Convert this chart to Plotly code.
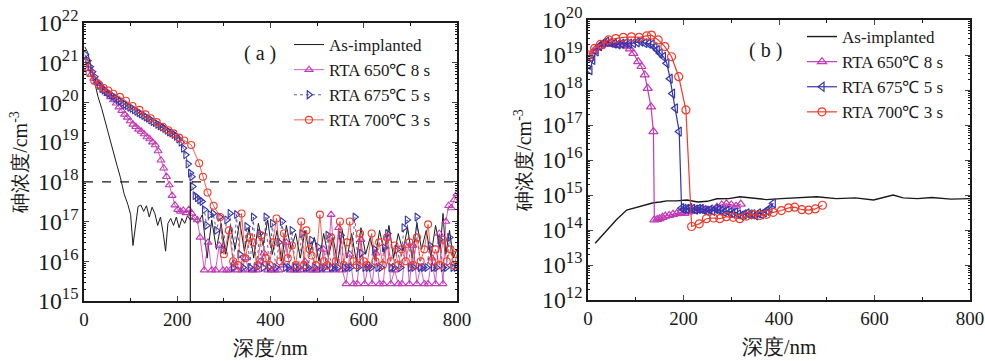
import plotly.graph_objects as go

# ---------------- Panel (a) data ----------------
as_a_depth = [2, 8, 15, 22, 30, 38, 46, 54, 62, 70, 78, 86, 94, 100, 105, 110, 116, 122, 128, 134, 140,
              146, 152, 158, 164, 170, 175, 180, 186, 192, 198, 204, 210, 216, 222, 228,
              234, 244, 254, 264, 274, 284, 294, 304, 314, 324, 334, 344, 354, 364, 374, 384, 394,
              404, 414, 424, 434, 444, 454, 464, 474, 484, 494, 504, 514, 524, 534, 544, 554, 564,
              574, 584, 594, 604, 614, 624, 634, 644, 654, 664, 674, 684, 694, 704, 714, 724, 734,
              744, 754, 764, 770, 776, 784, 792, 800]
as_a_conc = [2.5e21, 1.8e21, 8e20, 3.5e20, 1.4e20, 7e19, 3e19, 1.3e19, 6e18, 2.8e18, 1.3e18, 5e17, 2.7e17,
             1.5e17, 2.5e16, 8e16, 2.4e17, 2.6e17, 1.8e17, 2.5e17, 1.3e17,
             2.3e17, 1.6e17, 8e16, 1.3e17, 5e16, 1.8e16, 9e16, 1.2e17, 8e16, 1.3e17, 7e16, 1.2e17, 9e16, 1.4e17, 1.1e17,
             1.2e17, 9e16, 1.5e17, 1.2e16, 1.1e17, 2e16, 9e16, 1.5e16, 8e16, 2e16, 1e17, 1.8e16, 7e16, 1.2e16, 9e16, 2.5e16, 1.1e17,
             1.5e16, 6e16, 1e16, 8e16, 2e16, 5e16, 1.2e16, 6e16, 1.5e16, 4e16, 1e16, 5e16, 1.3e16, 4e16, 9e15, 6e16, 1.2e16,
             5e16, 1e16, 7e16, 1.5e16, 4e16, 1.1e16, 6e16, 1.6e16, 8e16, 1.2e16, 5e16, 1.8e16, 7e16, 1.2e16, 9e16, 2e16, 6e16,
             1.3e16, 8e16, 2e16, 1.6e17, 1.5e16, 6e16, 1.2e16, 2e16]

r650_a_depth = [3, 9, 15, 21, 27, 33, 39, 45, 51, 57, 63, 69, 75, 81, 87, 93, 99, 105, 111, 117, 123, 129, 135,
                141, 147, 153, 159, 165, 171, 177, 183, 189, 195, 201, 207, 213, 219, 225, 231, 237, 243, 249,
                258, 266, 274, 282, 290, 298, 306, 314, 322, 330, 338, 346, 354, 362, 370, 378, 386, 394, 402,
                410, 418, 426, 434, 442, 450, 458, 466, 474, 482, 490, 498, 506, 514, 522, 530, 538, 546, 554,
                562, 570, 578, 586, 594, 602, 610, 618, 626, 634, 642, 650, 658, 666, 674, 682, 690, 698, 706,
                714, 722, 730, 738, 746, 754, 762, 770, 776, 782, 788, 794, 800]
r650_a_conc = [1.12e21, 7.1e20, 5e20, 4e20, 3.3e20, 2.95e20, 2.4e20, 2e20, 1.66e20, 1.38e20, 1.15e20, 9.5e19, 7.6e19,
               6.2e19, 5e19, 4.2e19, 3.4e19, 2.8e19, 2.45e19, 2.1e19, 1.86e19, 1.6e19, 1.35e19,
               1.2e19, 1e19, 8.5e18, 6e18, 3.5e18, 2.2e18, 1.35e18, 8.3e17, 4.5e17, 2.6e17, 2e17, 1.8e17, 1.9e17,
               1.66e17, 2e17, 1.6e17, 1.26e17, 1.1e17, 4e16,
               6e15, 3e16, 6e15, 6e15, 2.5e16, 6e15, 6e15, 6e15, 9e15, 6e15, 6e15, 1.2e16, 6e15, 6e15, 6e15, 1e16, 1.6e16, 6e15, 6e15,
               6e15, 6e15, 8e15, 3e16, 6e15, 6e15, 6e15, 6e15, 1e16, 6e15, 6e15, 6e15, 6e15, 2e16, 6e15, 1.5e17, 6e15, 7e16, 6e15,
               2.7e15, 1.5e16, 2.7e15, 2.7e15, 3.5e16, 2.7e15, 8e15, 2.7e15, 1.6e16, 2.7e15, 2.7e15, 4e16, 2.7e15, 6e15, 2.7e15, 2.7e15, 2.5e16, 2.7e15, 2.5e16,
               2.7e15, 7e15, 2.7e15, 2.7e15, 1.2e16, 2.7e15, 5e16, 2.7e15, 1e17, 2.5e17, 2.2e17, 3.5e17, 5e17]

r675_a_depth = [3, 8, 13, 18, 23, 28, 33, 38, 43, 48, 53, 58, 63, 68, 73, 78, 83, 88, 93, 98, 103, 108, 113, 118,
                123, 128, 133, 138, 143, 148, 153, 158, 163, 168, 173, 178, 183, 188, 193, 198, 203, 208, 213,
                218, 223, 228, 231, 233, 238, 243, 248, 253, 258, 263,
                270, 277, 284, 291, 298, 306, 313, 320, 327, 334, 341, 349, 356, 363, 370, 377, 384, 390, 397,
                404, 411, 418, 425, 432, 439, 446, 453, 460, 467, 474, 481, 488, 495, 502, 509, 516, 523, 530,
                537, 544, 551, 558, 565, 572, 581, 588, 595, 602, 609, 616, 623, 630, 637, 644, 651, 658, 665,
                672, 679, 686, 693, 700, 707, 714, 721, 728, 735, 742, 749, 756, 763, 770, 777, 784, 791, 798]
r675_a_conc = [1.6e21, 1.12e21, 7.9e20, 5.9e20, 4.4e20, 3.3e20, 2.7e20, 2.24e20, 2.04e20, 1.86e20, 1.7e20, 1.55e20,
               1.41e20, 1.29e20, 1.17e20, 1.07e20, 9.8e19, 8.9e19, 8.3e19, 7.6e19, 7.1e19, 6.5e19, 6e19, 5.5e19,
               5.1e19, 4.7e19, 4.3e19, 4e19, 3.6e19, 3.3e19, 3.1e19, 2.8e19, 2.6e19, 2.4e19, 2.2e19, 2e19, 1.8e19,
               1.7e19, 1.55e19, 1.4e19, 1.2e19, 1e19, 7e18, 4.8e18, 2.8e18, 1.66e18, 1.35e18, 7.6e17, 4.5e17, 4e17,
               3.5e17, 3.2e17, 2e17, 8e16,
               1.5e17, 1.6e17, 6e16, 1.3e17, 2e16, 1.1e17, 1.6e17, 7e15, 1.5e17, 1.5e16, 7e15, 7.5e16, 7e15, 1.3e17,
               7e15, 5e16, 7e15, 1.3e17, 7e15, 9e16, 7e15, 3e16, 1e17, 7e15, 7e15, 6e16, 7e15, 7e15, 5e16, 7e15, 7e15,
               3.4e16, 7e15, 2.3e16, 7e15, 7e15, 4.5e16, 7e15, 7e15, 7e15, 4.5e16, 7e15, 7e15, 7e15, 1.3e17, 7e15,
               1.6e16, 7e15, 7e15, 7e15, 2e16, 7e15, 7e15, 2.2e16, 5e16, 7e15, 7e15, 2e16, 7e15, 7e16, 1.1e17, 7e15,
               7e15, 1.3e17, 7e15, 7e15, 7e15, 2.5e16, 7e15, 7e15, 3.5e16, 7e15, 7e15, 4e16, 7e15, 7e15]

r700_a_depth = [3, 12, 22, 32, 42, 52, 63, 77, 90, 104, 119, 132, 143, 156, 169, 181, 192, 204, 215, 230, 247,
                255, 265, 278, 292, 300, 311, 320, 330, 338, 346, 355, 363, 372, 380, 390, 398, 405, 413, 421,
                429, 437, 446, 454, 466, 472, 477, 484, 488, 497, 506, 514, 522, 530, 540, 549, 557, 564, 570,
                578, 585, 592, 600, 607, 617, 625, 633, 641, 650, 658, 666, 674, 681, 690, 698, 706, 714, 722,
                730, 738, 746, 754, 762, 770, 778, 786, 794, 800]
r700_a_conc = [1e21, 5.6e20, 3.5e20, 2.8e20, 2.3e20, 2e20, 1.66e20, 1.38e20, 1.1e20, 8.1e19, 6.5e19, 5e19, 4e19,
               3.2e19, 2.45e19, 2e19, 1.66e19, 1.3e19, 1.1e19, 8.5e18, 2.95e18, 1.35e18, 5.4e17, 2.5e17, 1.3e17,
               1.5e16, 6e16, 1e16, 8e15, 1.6e17, 1.2e16, 4e16, 3e16, 8e15, 4.5e16, 1.2e16, 8e15, 3e16, 1.2e17, 1e16,
               5e16, 1.2e16, 2.5e16, 8e15, 1e17, 8e15, 6e16, 2e16, 1.4e16, 8e15, 1.5e17, 1e16, 8e15, 4e16, 1e16,
               1e17, 8e15, 3e16, 1e17, 1e16, 8e15, 5e16, 1e16, 8e15, 5e16, 1e16, 3e16, 8e15, 4e16, 1e16, 2.5e16,
               8e15, 2e16, 1e16, 3e16, 8e15, 4e16, 1e16, 2e16, 8.5e16, 1e16, 2e16, 8e15, 3.5e16, 1e16, 2e16, 8e15, 1.5e16]

threshold_conc = 1e18
threshold_depth = [0, 800]
junction_depth = 228
junction_conc = [1e18, 1e15]

# ---------------- Panel (b) data ----------------
as_b_depth = [15, 30, 46, 60, 81, 95, 109, 123, 137, 151, 165, 185, 207, 230, 250, 270, 295, 318, 345, 374,
              404, 440, 479, 520, 560, 598, 620, 639, 660, 690, 720, 760, 800]
as_b_conc = [4.2e13, 7.1e13, 1.26e14, 2e14, 3.7e14, 4.2e14, 4.7e14, 5.2e14, 6e14, 6.3e14, 6.8e14, 6.8e14, 7.2e14,
             6.3e14, 6.6e14, 7.8e14, 7.9e14, 8.9e14, 8.3e14, 7.4e14, 7.9e14, 8.5e14, 8.9e14, 7.9e14, 8.3e14,
             7.2e14, 8.5e14, 1e15, 8.3e14, 7.9e14, 8.5e14, 7.6e14, 7.9e14]

r650_b_depth = [4, 11, 18, 25, 32, 39, 46, 53, 60, 67, 74, 81, 88, 95, 105, 112, 119, 125, 132, 137, 139,
                145, 150, 156, 162, 170, 178, 186, 194, 202, 210, 220, 230, 240, 250, 260, 270, 280, 290, 300,
                310, 320]
r650_b_conc = [7.9e18, 1.26e19, 1.6e19, 1.74e19, 2e19, 2.1e19, 2.1e19, 2e19, 1.9e19, 2e19, 1.9e19, 1.8e19, 1.5e19,
               1.12e19, 6.5e18, 4.7e18, 2.7e18, 1.12e18, 3.3e17, 6.5e16, 1.95e14,
               2e14, 2.1e14, 2.3e14, 2.5e14, 2.6e14, 2.8e14, 2.95e14, 3.2e14, 3e14, 3.3e14, 3.5e14, 3.6e14, 3.8e14,
               3.7e14, 4e14, 4.5e14, 5.2e14, 5.6e14, 5.2e14, 4.8e14, 5.5e14]

r675_b_depth = [4, 10, 17, 24, 32, 39, 47, 55, 63, 71, 79, 87, 95, 103, 111, 119, 127, 134, 140, 145, 151, 158,
                165, 172, 177, 183, 191, 196, 201, 207, 213, 219, 225, 231, 237, 243, 249, 255, 261, 267, 273,
                279, 285, 291, 297, 303, 309, 315, 321, 327, 333, 339, 345, 351, 357, 363, 369, 375, 381, 388]
r675_b_conc = [3.7e18, 7.2e18, 1.26e19, 1.8e19, 2.2e19, 2.4e19, 2.3e19, 2.1e19, 2e19, 2.1e19, 2.2e19, 2.1e19,
               2.2e19, 2.3e19, 2.4e19, 2.2e19, 2.1e19, 2e19, 1.66e19, 1.38e19, 1.12e19, 8.9e18, 5.8e18, 2.1e18,
               7.9e17, 3e17, 6.5e16, 4.2e14, 4e14, 4e14, 4.2e14, 4e14, 3.8e14, 4e14, 4e14, 3.7e14, 3.5e14, 3.7e14,
               3.5e14, 4e14, 3.8e14, 3.5e14, 3.3e14, 3.5e14, 3.2e14, 3e14, 3.2e14, 2.8e14, 2.6e14, 2.8e14, 3e14,
               2.8e14, 2.8e14, 2.6e14, 3e14, 2.8e14, 3.2e14, 3.5e14, 4.2e14, 5.8e14]

r700_b_depth = [2, 14, 26, 43, 58, 74, 91, 107, 123, 133, 147, 161, 175, 190, 205, 217, 233, 248, 263, 276, 290,
                304, 318, 332, 346, 360, 374, 388, 405, 420, 433, 448, 462, 476, 491]
r700_b_conc = [1e19, 1.55e19, 2e19, 2.7e19, 2.95e19, 3.2e19, 3.3e19, 3.2e19, 3.5e19, 3.7e19, 2.7e19, 1.74e19,
               8.9e18, 2.4e18, 2.7e17, 1.26e14, 1.5e14, 2.1e14, 2.2e14, 2.1e14, 2.4e14, 2.3e14, 2.1e14, 2.5e14,
               2.8e14, 2.6e14, 2.8e14, 3.2e14, 3.6e14, 4.3e14, 4.5e14, 3.8e14, 3.7e14, 4e14, 5.1e14]

legend_names = ["As-implanted", "RTA 650℃ 8 s", "RTA 675℃ 5 s", "RTA 700℃ 3 s"]
x_ticks = [0, 200, 400, 600, 800]

# ---------------- styles ----------------
BLACK = "#1a1a1a"
MAGENTA = "#c23ab4"
BLUE = "#3434aa"
RED = "#f23a2a"
SERIF = "Liberation Serif"

fig = go.Figure()

MS = 7
LW = 0.8

# Panel (a)
fig.add_trace(go.Scatter(x=as_a_depth, y=as_a_conc, mode="lines", name=legend_names[0],
                         line=dict(color=BLACK, width=1.0), legend="legend"))
fig.add_trace(go.Scatter(x=r650_a_depth, y=r650_a_conc, mode="lines+markers", name=legend_names[1],
                         line=dict(color=MAGENTA, width=LW),
                         marker=dict(symbol="triangle-up-open", size=MS, color=MAGENTA, line=dict(width=1.1)),
                         legend="legend"))
fig.add_trace(go.Scatter(x=r675_a_depth, y=r675_a_conc, mode="lines+markers", name=legend_names[2],
                         line=dict(color=BLUE, width=LW, dash="dot"),
                         marker=dict(symbol="triangle-right-open", size=MS, color=BLUE, line=dict(width=1.1)),
                         legend="legend"))
fig.add_trace(go.Scatter(x=r700_a_depth, y=r700_a_conc, mode="lines+markers", name=legend_names[3],
                         line=dict(color=RED, width=LW),
                         marker=dict(symbol="circle-open", size=MS, color=RED, line=dict(width=1.1)),
                         legend="legend"))
fig.add_trace(go.Scatter(x=threshold_depth, y=[threshold_conc] * len(threshold_depth), mode="lines",
                         line=dict(color=BLACK, width=1.2, dash="dash"), showlegend=False, hoverinfo="skip"))
fig.add_trace(go.Scatter(x=[junction_depth] * len(junction_conc), y=junction_conc, mode="lines",
                         line=dict(color=BLACK, width=1.2), showlegend=False, hoverinfo="skip"))

# Panel (b)
fig.add_trace(go.Scatter(x=as_b_depth, y=as_b_conc, mode="lines", name=legend_names[0],
                         line=dict(color=BLACK, width=1.4), xaxis="x2", yaxis="y2", legend="legend2"))
fig.add_trace(go.Scatter(x=r650_b_depth, y=r650_b_conc, mode="lines+markers", name=legend_names[1],
                         line=dict(color=MAGENTA, width=1.2),
                         marker=dict(symbol="triangle-up-open", size=MS + 1, color=MAGENTA, line=dict(width=1.2)),
                         xaxis="x2", yaxis="y2", legend="legend2"))
fig.add_trace(go.Scatter(x=r675_b_depth, y=r675_b_conc, mode="lines+markers", name=legend_names[2],
                         line=dict(color=BLUE, width=1.2),
                         marker=dict(symbol="triangle-left-open", size=MS + 1, color=BLUE, line=dict(width=1.2)),
                         xaxis="x2", yaxis="y2", legend="legend2"))
fig.add_trace(go.Scatter(x=r700_b_depth, y=r700_b_conc, mode="lines+markers", name=legend_names[3],
                         line=dict(color=RED, width=1.2),
                         marker=dict(symbol="circle-open", size=MS + 1, color=RED, line=dict(width=1.2)),
                         xaxis="x2", yaxis="y2", legend="legend2"))

W, H = 985, 361

def xaxis(domain):
    return dict(domain=domain, range=[0, 800], tickvals=x_ticks, ticks="inside", ticklen=5, tickwidth=1.2,
                showline=True, linecolor=BLACK, linewidth=1.5, mirror="ticks", showgrid=False, zeroline=False,
                automargin=False,
                minor=dict(ticks="inside", ticklen=3, dtick=100, tickcolor=BLACK),
                tickfont=dict(family=SERIF, size=19, color=BLACK),
                title=dict(text="深度/nm", font=dict(family=SERIF, size=21, color=BLACK), standoff=12))

def yaxis(domain, rng, anchor):
    return dict(domain=domain, type="log", range=rng, dtick=1, exponentformat="power", ticks="inside",
                ticklen=5, tickwidth=1.2, showline=True, linecolor=BLACK, linewidth=1.5, mirror="ticks",
                showgrid=False, zeroline=False, anchor=anchor, automargin=False,
                minor=dict(ticks="inside", ticklen=2.5, dtick="D1", tickcolor=BLACK),
                tickfont=dict(family=SERIF, size=19, color=BLACK),
                title=dict(text="砷浓度/cm<sup>-3</sup>", font=dict(family=SERIF, size=20, color=BLACK), standoff=5))

fig.update_layout(
    width=W, height=H, margin=dict(l=0, r=0, t=0, b=0, autoexpand=False),
    paper_bgcolor="white", plot_bgcolor="white",
    font=dict(family=SERIF, color=BLACK),
    xaxis=dict(**xaxis([84 / W, 457 / W]), anchor="y"),
    yaxis=yaxis([1 - 301 / H, 1 - 23 / H], [15, 22], "x"),
    xaxis2=dict(**xaxis([588 / W, 970 / W]), anchor="y2"),
    yaxis2=yaxis([1 - 300 / H, 1 - 20 / H], [12, 20], "x2"),
    legend=dict(x=289 / W, y=1 - 27 / H, xanchor="left", yanchor="top", bgcolor="rgba(0,0,0,0)",
                font=dict(family=SERIF, size=17, color=BLACK), tracegroupgap=0, itemwidth=30),
    legend2=dict(x=802 / W, y=1 - 19 / H, xanchor="left", yanchor="top", bgcolor="rgba(0,0,0,0)",
                 font=dict(family=SERIF, size=17, color=BLACK), tracegroupgap=0, itemwidth=30),
    annotations=[
        dict(text="( a )", x=260 / W, y=1 - 53 / H, xref="paper", yref="paper", showarrow=False,
             xanchor="center", yanchor="middle", font=dict(family=SERIF, size=20, color=BLACK)),
        dict(text="( b )", x=765 / W, y=1 - 50 / H, xref="paper", yref="paper", showarrow=False,
             xanchor="center", yanchor="middle", font=dict(family=SERIF, size=20, color=BLACK)),
    ],
    showlegend=True,
)

fig.write_html("out.html", config={"displayModeBar": False},
               post_script="document.body.style.margin='0';")
